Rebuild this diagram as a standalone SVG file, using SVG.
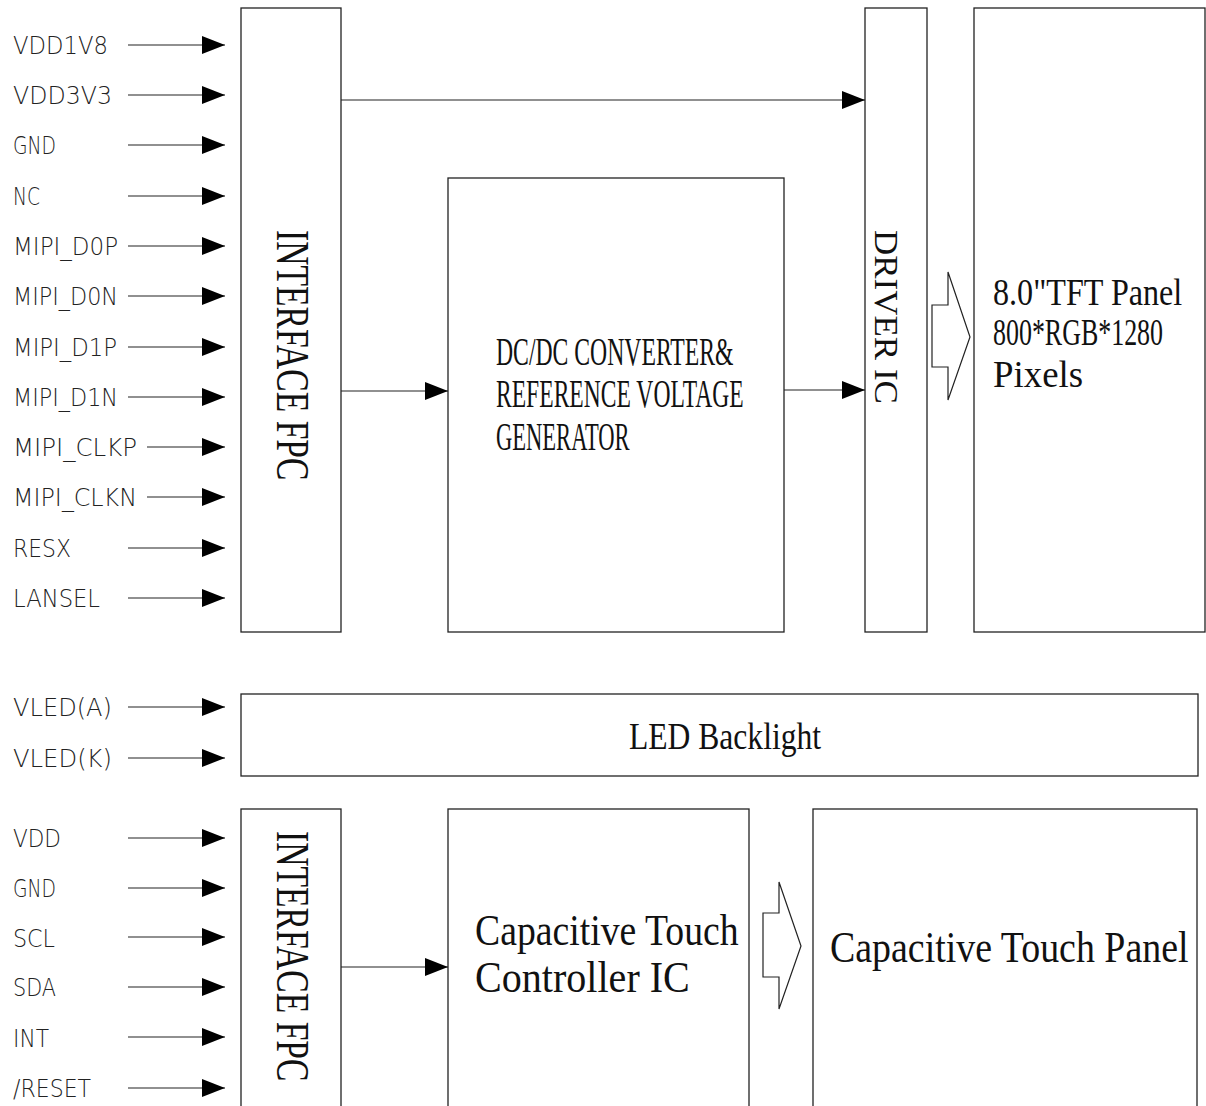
<svg xmlns="http://www.w3.org/2000/svg" width="1206" height="1106" viewBox="0 0 1206 1106">
<defs>
<marker id="ah" viewBox="0 0 23 18" refX="23" refY="9" markerWidth="23" markerHeight="18" markerUnits="userSpaceOnUse" orient="auto">
<path d="M0,0 L23,9 L0,18 Z" fill="#000"/>
</marker>
<style>
.box{fill:#fff;stroke:#222;stroke-width:1.3}
.pin{font-family:"DejaVu Sans","Liberation Sans",sans-serif;font-weight:200;font-size:24px;fill:#222}
.lbl{font-family:"Liberation Serif","DejaVu Serif",serif;fill:#111}
.wire{fill:none;stroke:#222;stroke-width:1.2}
.hollow{fill:#fff;stroke:#222;stroke-width:1.2}
</style>
</defs>
<rect width="1206" height="1106" fill="#fff"/>

<g id="fpc-top">
<rect class="box" x="241" y="8" width="100" height="624"/>
<text class="lbl" font-size="47" transform="translate(277,230) rotate(90) scale(0.715,1)">INTERFACE FPC</text>
</g>
<g id="dcdc">
<rect class="box" x="448" y="178" width="336" height="454"/>
<text class="lbl" font-size="41" transform="translate(496,365) scale(0.578,1)">DC/DC CONVERTER&amp;</text>
<text class="lbl" font-size="41" transform="translate(496,407) scale(0.575,1)">REFERENCE VOLTAGE</text>
<text class="lbl" font-size="41" transform="translate(496,450) scale(0.55,1)">GENERATOR</text>
</g>
<g id="driver">
<rect class="box" x="865" y="8" width="62" height="624"/>
<text class="lbl" font-size="33" transform="translate(875,230) rotate(90) scale(1.06,1)">DRIVER IC</text>
</g>
<g id="tft">
<rect class="box" x="974" y="8" width="231" height="624"/>
<text class="lbl" font-size="38" transform="translate(993,305) scale(0.846,1)">8.0"TFT Panel</text>
<text class="lbl" font-size="38" transform="translate(993,345) scale(0.683,1)">800*RGB*1280</text>
<text class="lbl" font-size="38" transform="translate(993,387) scale(0.97,1)">Pixels</text>
</g>
<g id="led">
<rect class="box" x="241" y="694" width="957" height="82"/>
<text class="lbl" font-size="39" transform="translate(629,749) scale(0.81,1)">LED Backlight</text>
</g>
<g id="fpc-bottom">
<rect class="box" x="241" y="809" width="100" height="310"/>
<text class="lbl" font-size="47" transform="translate(277,831) rotate(90) scale(0.715,1)">INTERFACE FPC</text>
</g>
<g id="ctp-ic">
<rect class="box" x="448" y="809" width="301" height="310"/>
<text class="lbl" font-size="44" transform="translate(475,945) scale(0.857,1)">Capacitive Touch</text>
<text class="lbl" font-size="44" transform="translate(475,992) scale(0.911,1)">Controller IC</text>
</g>
<g id="ctp">
<rect class="box" x="813" y="809" width="384" height="310"/>
<text class="lbl" font-size="44" transform="translate(830,962) scale(0.861,1)">Capacitive Touch Panel</text>
</g>

<g id="pins">
<text class="pin" x="13" y="54" textLength="95" lengthAdjust="spacingAndGlyphs">VDD1V8</text>
<text class="pin" x="13" y="104" textLength="99" lengthAdjust="spacingAndGlyphs">VDD3V3</text>
<text class="pin" x="13" y="154" textLength="43" lengthAdjust="spacingAndGlyphs">GND</text>
<text class="pin" x="13" y="205" textLength="27" lengthAdjust="spacingAndGlyphs">NC</text>
<text class="pin" x="13" y="255" textLength="105" lengthAdjust="spacingAndGlyphs">MIPI_D0P</text>
<text class="pin" x="13" y="305" textLength="105" lengthAdjust="spacingAndGlyphs">MIPI_D0N</text>
<text class="pin" x="13" y="356" textLength="104" lengthAdjust="spacingAndGlyphs">MIPI_D1P</text>
<text class="pin" x="13" y="406" textLength="105" lengthAdjust="spacingAndGlyphs">MIPI_D1N</text>
<text class="pin" x="13" y="456" textLength="124" lengthAdjust="spacingAndGlyphs">MIPI_CLKP</text>
<text class="pin" x="13" y="506" textLength="124" lengthAdjust="spacingAndGlyphs">MIPI_CLKN</text>
<text class="pin" x="13" y="557" textLength="58" lengthAdjust="spacingAndGlyphs">RESX</text>
<text class="pin" x="13" y="607" textLength="87" lengthAdjust="spacingAndGlyphs">LANSEL</text>
<text class="pin" x="13" y="716" textLength="99" lengthAdjust="spacingAndGlyphs">VLED(A)</text>
<text class="pin" x="13" y="767" textLength="99" lengthAdjust="spacingAndGlyphs">VLED(K)</text>
<text class="pin" x="13" y="847" textLength="48" lengthAdjust="spacingAndGlyphs">VDD</text>
<text class="pin" x="13" y="897" textLength="43" lengthAdjust="spacingAndGlyphs">GND</text>
<text class="pin" x="13" y="947" textLength="42" lengthAdjust="spacingAndGlyphs">SCL</text>
<text class="pin" x="13" y="996" textLength="43" lengthAdjust="spacingAndGlyphs">SDA</text>
<text class="pin" x="13" y="1047" textLength="36" lengthAdjust="spacingAndGlyphs">INT</text>
<text class="pin" x="13" y="1097" textLength="78" lengthAdjust="spacingAndGlyphs">/RESET</text>
</g>

<g id="connectors">
<path class="wire" marker-end="url(#ah)" d="M128,45 H225"/>
<path class="wire" marker-end="url(#ah)" d="M128,95 H225"/>
<path class="wire" marker-end="url(#ah)" d="M128,145 H225"/>
<path class="wire" marker-end="url(#ah)" d="M128,196 H225"/>
<path class="wire" marker-end="url(#ah)" d="M128,246 H225"/>
<path class="wire" marker-end="url(#ah)" d="M128,296 H225"/>
<path class="wire" marker-end="url(#ah)" d="M128,347 H225"/>
<path class="wire" marker-end="url(#ah)" d="M128,397 H225"/>
<path class="wire" marker-end="url(#ah)" d="M147,447 H225"/>
<path class="wire" marker-end="url(#ah)" d="M147,497 H225"/>
<path class="wire" marker-end="url(#ah)" d="M128,548 H225"/>
<path class="wire" marker-end="url(#ah)" d="M128,598 H225"/>
<path class="wire" marker-end="url(#ah)" d="M128,707 H225"/>
<path class="wire" marker-end="url(#ah)" d="M128,758 H225"/>
<path class="wire" marker-end="url(#ah)" d="M128,838 H225"/>
<path class="wire" marker-end="url(#ah)" d="M128,888 H225"/>
<path class="wire" marker-end="url(#ah)" d="M128,937 H225"/>
<path class="wire" marker-end="url(#ah)" d="M128,987 H225"/>
<path class="wire" marker-end="url(#ah)" d="M128,1037 H225"/>
<path class="wire" marker-end="url(#ah)" d="M128,1088 H225"/>
<path class="wire" marker-end="url(#ah)" d="M341,100 H865"/>
<path class="wire" marker-end="url(#ah)" d="M341,391 H448"/>
<path class="wire" marker-end="url(#ah)" d="M784,390 H865"/>
<path class="wire" marker-end="url(#ah)" d="M341,967 H448"/>
<polygon class="hollow" points="932,305 948,305 948,272 970,337 948,400 948,367 932,367"/>
<polygon class="hollow" points="763,913 779,913 779,882 801,946 779,1009 779,977 763,977"/>
</g>
</svg>
